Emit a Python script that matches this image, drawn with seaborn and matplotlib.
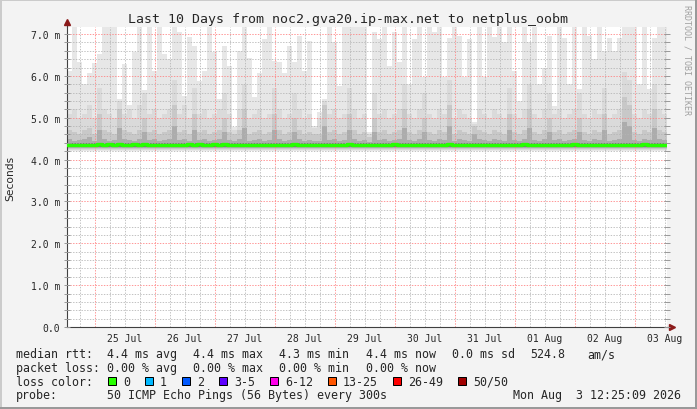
import pandas as pd
import matplotlib
matplotlib.use("Agg")
import matplotlib.pyplot as plt
import matplotlib.dates as mdates
from matplotlib.ticker import MultipleLocator, FuncFormatter, NullFormatter
from matplotlib.patches import Rectangle
import seaborn as sns

# DATA, one value per 2 hour slot (ms)
start_time = "2026-07-24 12:48"
end_time = "2026-08-03 12:48"

# top of the lightest smoke = slowest ping (above 7.2 is cut off)
smoke_max = [
    6.12, 7.5, 6.32, 5.8, 6.08, 6.3, 6.52, 7.5, 7.5, 7.5,
    5.45, 6.28, 5.3, 6.56, 7.5, 5.67, 7.5, 6.12, 7.5, 6.52,
    6.4, 7.5, 7.04, 5.53, 6.92, 6.72, 5.88, 6.12, 7.5, 6.56,
    5.45, 6.72, 6.24, 4.77, 6.6, 7.5, 6.42, 5.5, 6.08, 6.88,
    7.5, 6.36, 6.32, 6.08, 6.72, 6.32, 6.96, 6.12, 6.84, 4.8,
    5.13, 5.45, 7.5, 6.8, 5.76, 7.5, 7.5, 7.5, 7.5, 7.5,
    4.66, 7.04, 6.88, 7.5, 6.24, 7.04, 6.33, 7.5, 5.8, 6.88,
    7.5, 5.97, 7.5, 7.04, 7.5, 5.97, 6.9, 7.5, 6.95, 5.97,
    6.88, 4.9, 7.5, 5.97, 7.5, 6.92, 7.5, 6.8, 7.5, 6.12,
    5.4, 7.5, 6.8, 7.5, 5.8, 6.2, 6.95, 5.29, 7.5, 6.9,
    5.8, 7.5, 5.69, 7.5, 6.95, 6.4, 7.5, 6.6, 6.9, 6.6,
    6.9, 7.5, 7.5, 7.5, 5.8, 7.5, 5.69, 6.9, 7.5, 7.5,
]
smoke_mid = [
    5.1, 5.2, 5.0, 5.1, 5.3, 5.0, 5.7, 5.2, 5.1, 5.0,
    5.4, 5.1, 5.2, 5.0, 5.3, 5.6, 5.1, 5.2, 5.0, 5.1,
    5.2, 5.9, 5.1, 5.3, 5.0, 5.7, 5.1, 5.2, 5.0, 5.1,
    5.2, 5.6, 5.1, 4.7, 5.2, 5.8, 5.0, 5.1, 5.2, 5.0,
    5.1, 5.7, 5.2, 5.0, 5.1, 5.6, 5.2, 5.0, 5.1, 4.75,
    5.0, 5.4, 5.1, 5.2, 5.0, 5.1, 5.7, 5.2, 5.0, 5.1,
    4.6, 5.6, 5.1, 5.2, 5.0, 5.1, 5.2, 5.8, 5.1, 5.0,
    5.2, 5.6, 5.1, 5.0, 5.2, 5.1, 5.9, 5.0, 5.2, 5.1,
    5.0, 4.85, 5.2, 5.1, 5.0, 5.2, 5.1, 5.0, 5.7, 5.1,
    5.0, 5.2, 5.8, 5.1, 5.0, 5.2, 5.6, 5.1, 5.2, 5.0,
    5.1, 5.2, 5.6, 5.1, 5.0, 5.2, 5.1, 5.7, 5.0, 5.1,
    5.2, 6.1, 5.9, 5.1, 5.0, 5.2, 5.1, 5.8, 5.2, 5.1,
]
smoke_inner = [
    4.7, 4.65, 4.6, 4.7, 4.75, 4.6, 5.1, 4.7, 4.65, 4.6,
    5.2, 4.7, 4.65, 4.6, 4.7, 5.0, 4.65, 4.7, 4.6, 4.65,
    4.7, 5.3, 4.65, 4.7, 4.6, 5.1, 4.65, 4.7, 4.6, 4.65,
    4.7, 5.0, 4.65, 4.6, 4.7, 5.2, 4.6, 4.65, 4.7, 4.6,
    4.65, 5.1, 4.7, 4.6, 4.65, 5.0, 4.7, 4.6, 4.65, 4.6,
    4.6, 5.3, 4.65, 4.7, 4.6, 4.65, 5.1, 4.7, 4.6, 4.65,
    4.55, 5.0, 4.65, 4.7, 4.6, 4.65, 4.7, 5.2, 4.65, 4.6,
    4.7, 5.0, 4.65, 4.6, 4.7, 4.65, 5.3, 4.6, 4.7, 4.65,
    4.6, 4.8, 4.7, 4.65, 4.6, 4.7, 4.65, 4.6, 5.1, 4.65,
    4.6, 4.7, 5.2, 4.65, 4.6, 4.7, 5.0, 4.65, 4.7, 4.6,
    4.65, 4.7, 5.0, 4.65, 4.6, 4.7, 4.65, 5.1, 4.6, 4.65,
    4.7, 5.5, 5.3, 4.65, 4.6, 4.7, 4.65, 5.2, 4.7, 4.65,
]
smoke_core = [
    4.5, 4.45, 4.48, 4.5, 4.55, 4.45, 4.7, 4.5, 4.45, 4.48,
    4.75, 4.5, 4.48, 4.45, 4.5, 4.65, 4.48, 4.5, 4.45, 4.48,
    4.5, 4.8, 4.48, 4.5, 4.45, 4.7, 4.48, 4.5, 4.45, 4.48,
    4.5, 4.65, 4.48, 4.45, 4.5, 4.75, 4.45, 4.48, 4.5, 4.45,
    4.48, 4.7, 4.5, 4.45, 4.48, 4.65, 4.5, 4.45, 4.48, 4.45,
    4.45, 4.8, 4.48, 4.5, 4.45, 4.48, 4.7, 4.5, 4.45, 4.48,
    4.42, 4.65, 4.48, 4.5, 4.45, 4.48, 4.5, 4.75, 4.48, 4.45,
    4.5, 4.65, 4.48, 4.45, 4.5, 4.48, 4.8, 4.45, 4.5, 4.48,
    4.45, 4.6, 4.5, 4.48, 4.45, 4.5, 4.48, 4.45, 4.7, 4.48,
    4.45, 4.5, 4.75, 4.48, 4.45, 4.5, 4.65, 4.48, 4.5, 4.45,
    4.48, 4.5, 4.65, 4.48, 4.45, 4.5, 4.48, 4.7, 4.45, 4.48,
    4.5, 4.9, 4.8, 4.48, 4.45, 4.5, 4.48, 4.75, 4.5, 4.48,
]
median_rtt = [
    4.35, 4.35, 4.35, 4.35, 4.35, 4.35, 4.37, 4.35, 4.37, 4.35,
    4.37, 4.35, 4.35, 4.37, 4.35, 4.37, 4.35, 4.35, 4.35, 4.35,
    4.35, 4.35, 4.35, 4.35, 4.37, 4.35, 4.37, 4.35, 4.35, 4.37,
    4.35, 4.37, 4.35, 4.35, 4.35, 4.35, 4.35, 4.35, 4.35, 4.35,
    4.35, 4.35, 4.35, 4.35, 4.35, 4.37, 4.35, 4.35, 4.35, 4.35,
    4.35, 4.35, 4.35, 4.35, 4.35, 4.35, 4.37, 4.35, 4.35, 4.35,
    4.35, 4.35, 4.35, 4.35, 4.35, 4.37, 4.35, 4.35, 4.35, 4.35,
    4.35, 4.35, 4.35, 4.35, 4.35, 4.35, 4.37, 4.35, 4.35, 4.35,
    4.35, 4.35, 4.35, 4.35, 4.35, 4.35, 4.35, 4.35, 4.35, 4.35,
    4.35, 4.37, 4.35, 4.35, 4.35, 4.35, 4.35, 4.35, 4.35, 4.35,
    4.35, 4.37, 4.35, 4.35, 4.35, 4.35, 4.35, 4.35, 4.35, 4.35,
    4.35, 4.35, 4.35, 4.35, 4.35, 4.37, 4.35, 4.35, 4.35, 4.35,
]
smoke_floor = [4.20, 4.22, 4.25, 4.28]
smoke_colors = ["#e7e7e7", "#dadada", "#c8c8c8", "#acacac"]
median_band = [4.30, 4.40]

loss_labels = ["0", "1", "2", "3-5", "6-12", "13-25", "26-49", "50/50"]
loss_colors = ["#26ff00", "#00b8ff", "#0059ff", "#5e00ff",
               "#ff00ea", "#ff5500", "#ff0000", "#a10000"]
rtt_stats = ["4.4 ms avg", "4.4 ms max", "4.3 ms min", "4.4 ms now",
             "0.0 ms sd", "524.8", "am/s"]
loss_stats = ["0.00 % avg", "0.00 % max", "0.00 % min", "0.00 % now"]
title = "Last 10 Days from noc2.gva20.ip-max.net to netplus_oobm"
probe_text = "50 ICMP Echo Pings (56 Bytes) every 300s"
stamp_text = "Mon Aug  3 12:25:09 2026"

# FIGURE
W, H = 697, 410
MONO = "DejaVu Sans Mono"
sns.set_style("white")
plt.rcParams["font.family"] = ["DejaVu Sans"]

fig = plt.figure(figsize=(W / 100, H / 100), dpi=100, facecolor="#f3f3f3")
ax = fig.add_axes([67 / W, 82 / H, 600 / W, 300.5 / H])
ax.set_facecolor("white")

def fx(x):
    return x / W

def fy(y):
    return 1 - y / H

# SMOKE
times = pd.date_range(start_time, periods=len(smoke_max) + 1, freq="2h")
for top, floor, col in zip([smoke_max, smoke_mid, smoke_inner, smoke_core],
                           smoke_floor, smoke_colors):
    ax.fill_between(times, floor, top + top[-1:], step="post", color=col,
                    lw=0, zorder=1)
ax.fill_between(times, median_band[0], median_band[1], step="post",
                color="#7a7a7a", lw=0, zorder=1.5)

df = pd.DataFrame({"time": times, "rtt": median_rtt + median_rtt[-1:]})
sns.lineplot(data=df, x="time", y="rtt", drawstyle="steps-post",
             color="#26ff00", lw=2.4, estimator=None, ax=ax, zorder=4)

ax.set_xlim(pd.Timestamp(start_time), pd.Timestamp(end_time))
ax.set_ylim(0, 7.18)
ax.set_xlabel("")
ax.set_ylabel("")

# GRID (dotted, drawn over the smoke)
ax.set_axisbelow(False)
ax.xaxis.set_major_locator(mdates.DayLocator())
ax.xaxis.set_minor_locator(mdates.HourLocator(byhour=[6, 12, 18]))
ax.xaxis.set_major_formatter(NullFormatter())
ax.xaxis.set_minor_formatter(FuncFormatter(
    lambda v, p: mdates.num2date(v).strftime("%d %b")
    if mdates.num2date(v).hour == 12 else ""))
ax.yaxis.set_major_locator(MultipleLocator(1))
ax.yaxis.set_minor_locator(MultipleLocator(0.2))
ax.yaxis.set_major_formatter(FuncFormatter(
    lambda v, p: "0.0" if v == 0 else "%.1f m" % v))

ax.grid(which="major", color="#ff8080", alpha=0.8, lw=0.72,
        linestyle=(0, (1.4, 1.4)))
ax.grid(which="minor", color="#b4b4b4", alpha=0.8, lw=0.72,
        linestyle=(0, (1.4, 1.4)))

ax.tick_params(axis="x", which="both", length=0, pad=4, labelsize=7,
               labelfontfamily=MONO)
ax.tick_params(axis="y", which="both", direction="inout", length=4,
               width=0.7, color="#999999", right=True, left=True,
               pad=3, labelsize=7, labelfontfamily=MONO)

for s in ["top", "right"]:
    ax.spines[s].set_visible(False)
for s in ["left", "bottom"]:
    ax.spines[s].set_color("#404040")
    ax.spines[s].set_linewidth(0.8)

# axis arrows
ax.plot([0, 0], [1, 1.012], transform=ax.transAxes, clip_on=False,
        color="#404040", lw=0.8)
ax.plot([0], [1.015], marker="^", ms=4, color="#8b1a1a",
        transform=ax.transAxes, clip_on=False)
ax.plot([1, 1.006], [0, 0], transform=ax.transAxes, clip_on=False,
        color="#404040", lw=0.8)
ax.plot([1.008], [0], marker=">", ms=4, color="#8b1a1a",
        transform=ax.transAxes, clip_on=False)

# TEXT
fig.text(fx(348), fy(22.5), title, ha="center", va="baseline",
         family=MONO, size=9.5)
fig.text(fx(10), fy(178), "Seconds", rotation=90, ha="center",
         va="center", size=7.7)
fig.text(fx(687), fy(60), "RRDTOOL / TOBI OETIKER", rotation=270,
         ha="center", va="center", family=MONO, size=6, color="#a0a0a0")

rows = [358.3, 372.1, 385.8, 399.4]
fig.text(fx(16), fy(rows[0]), "median rtt:", family=MONO, size=8.4)
for x, s in zip([107, 193, 279, 366, 452, 530, 587], rtt_stats):
    fig.text(fx(x), fy(rows[0]), s, family=MONO, size=8.4)

fig.text(fx(16), fy(rows[1]), "packet loss:", family=MONO, size=8.4)
for x, s in zip([107, 193, 279, 366], loss_stats):
    fig.text(fx(x), fy(rows[1]), s, family=MONO, size=8.4)

fig.text(fx(16), fy(rows[2]), "loss color:", family=MONO, size=8.4)
bx = 108
for lab, col in zip(loss_labels, loss_colors):
    fig.patches.append(Rectangle((fx(bx), fy(386)), 8 / W, 8 / H,
                                 transform=fig.transFigure,
                                 facecolor=col, edgecolor="black", lw=0.72))
    fig.text(fx(bx + 15), fy(rows[2]), lab, family=MONO, size=8.4)
    bx += 37 + 7 * (len(lab) - 1)

fig.text(fx(16), fy(rows[3]), "probe:", family=MONO, size=8.4)
fig.text(fx(107), fy(rows[3]), probe_text, family=MONO, size=8.4)
fig.text(fx(681), fy(rows[3]), stamp_text, ha="right", family=MONO, size=8.4)

# frame shading
fig.patches.append(Rectangle((0, fy(2)), 1, 2 / H, transform=fig.transFigure,
                             color="#cbcbcb", lw=0))
fig.patches.append(Rectangle((0, 0), 2 / W, 1, transform=fig.transFigure,
                             color="#cbcbcb", lw=0))
fig.patches.append(Rectangle((fx(695), 0), 2 / W, 1, transform=fig.transFigure,
                             color="#999999", lw=0))
fig.patches.append(Rectangle((0, 0), 1, 2 / H, transform=fig.transFigure,
                             color="#999999", lw=0))

fig.savefig("out.png", dpi=100, facecolor=fig.get_facecolor())
